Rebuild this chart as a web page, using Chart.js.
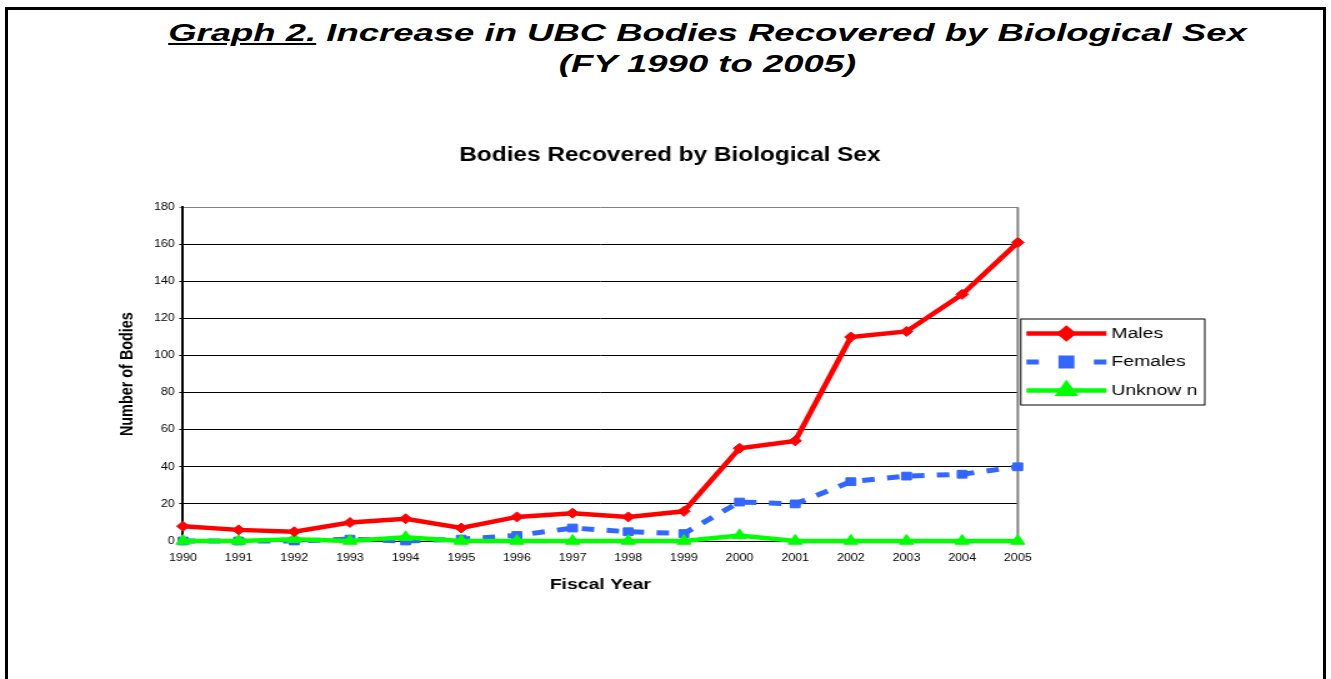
<!DOCTYPE html>
<html>
<head>
<meta charset="utf-8">
<script src="https://cdn.jsdelivr.net/npm/chart.js@4.4.1/dist/chart.umd.min.js"></script>
<style>
  html, body { margin: 0; padding: 0; background: #fff; overflow: hidden; }
  body { width: 1331px; height: 679px; position: relative; }
  #frame {
    position: absolute; left: 5px; top: 7px; width: 1315px; height: 720px;
    border: 3px solid #000;
  }
  #pageTitle {
    position: absolute; left: 42px; top: 17px; width: 1331px;
    text-align: center; font: italic bold 24px "Liberation Sans", Arial, sans-serif;
    line-height: 31px; color: #000;
    transform: scaleX(1.52); transform-origin: center top;
  }
  #pageTitle .u { text-decoration: underline; }
  #c { position: absolute; left: 0; top: 0; }
</style>
</head>
<body>
<div id="frame"></div>
<div id="pageTitle">
  <div><span class="u">Graph 2.</span> Increase in UBC Bodies Recovered by Biological Sex</div>
  <div>(FY 1990 to 2005)</div>
</div>
<!-- canvas is drawn narrow and stretched sideways, like the original picture -->
<canvas id="c" width="1065" height="679" style="width:1331px;height:679px"></canvas>
<script>
// ---- data ----
const years = ['1990', '1991', '1992', '1993', '1994', '1995', '1996', '1997',
               '1998', '1999', '2000', '2001', '2002', '2003', '2004', '2005'];
const males   = [8, 6, 5, 10, 12, 7, 13, 15, 13, 16, 50, 54, 110, 113, 133, 161];
const females = [0, 0, 0, 1, 0, 1, 3, 7, 5, 4, 21, 20, 32, 35, 36, 40];
const unknown = [0, 0, 1, 0, 2, 0, 0, 0, 0, 0, 3, 0, 0, 0, 0, 0];
const seriesNames = ['Males', 'Females', 'Unknow n'];
const yTicks = [0, 20, 40, 60, 80, 100, 120, 140, 160, 180];

const FONT = '"Liberation Sans", Arial, sans-serif';

// legend with a line + marker sample, inside a framed box
const lineLegend = {
    id: 'lineLegend',
    afterDraw(chart, args, o) {
        const ctx = chart.ctx;
        ctx.save();
        ctx.strokeStyle = '#000';
        ctx.lineWidth = 1;
        ctx.strokeRect(o.left, o.top, o.width, o.height);
        chart.data.datasets.forEach((ds, i) => {
            const y = o.top + o.firstRow + i * o.rowGap;
            const x0 = o.left + o.lineStart, x1 = o.left + o.lineEnd;
            ctx.strokeStyle = ds.borderColor;
            ctx.lineWidth = ds.borderWidth;
            if (ds.borderDash) {
                const d = ds.borderDash[0];
                ctx.setLineDash([d, (x1 - x0) - 2 * d, d]);
            } else {
                ctx.setLineDash([]);
            }
            ctx.beginPath();
            ctx.moveTo(x0, y);
            ctx.lineTo(x1, y);
            ctx.stroke();
            ctx.setLineDash([]);
            ctx.fillStyle = ds.pointBackgroundColor;
            ctx.strokeStyle = ds.pointBorderColor;
            Chart.helpers.drawPoint(ctx, {
                pointStyle: ds.pointStyle, radius: ds.pointRadius, borderWidth: 1, rotation: 0
            }, (x0 + x1) / 2, y);
            ctx.fillStyle = '#000';
            ctx.font = o.font;
            ctx.textBaseline = 'middle';
            ctx.textAlign = 'left';
            ctx.fillText(ds.label, o.left + o.textStart, y);
        });
        ctx.restore();
    }
};

// grey right edge of the plot area
const plotEdge = {
    id: 'plotEdge',
    beforeDatasetsDraw(chart) {
        const {ctx, chartArea} = chart;
        ctx.save();
        ctx.strokeStyle = '#808080';
        ctx.lineWidth = 2;
        ctx.beginPath();
        ctx.moveTo(chartArea.right, chartArea.top);
        ctx.lineTo(chartArea.right, chartArea.bottom);
        ctx.stroke();
        ctx.restore();
    }
};

const ctx = document.getElementById('c');

new Chart(ctx, {
    type: 'line',
    data: {
        labels: years,
        datasets: [
            {
                label: seriesNames[0], data: males, order: 0, clip: false,
                borderColor: '#ff0000', backgroundColor: '#ff0000', borderWidth: 4.5,
                pointStyle: 'rectRot', pointRadius: 5,
                pointBackgroundColor: '#ff0000', pointBorderColor: '#ff0000', pointBorderWidth: 1
            },
            {
                label: seriesNames[1], data: females, order: 2, clip: false,
                borderColor: '#3366ff', backgroundColor: '#3366ff', borderWidth: 5,
                borderDash: [10, 10],
                pointStyle: 'rect', pointRadius: 5.5,
                pointBackgroundColor: '#3366ff', pointBorderColor: '#3366ff', pointBorderWidth: 1
            },
            {
                label: seriesNames[2], data: unknown, order: 1, clip: false,
                borderColor: '#00ff00', backgroundColor: '#00ff00', borderWidth: 4.5,
                pointStyle: 'triangle', pointRadius: 6.5,
                pointBackgroundColor: '#00ff00', pointBorderColor: '#00ff00', pointBorderWidth: 1
            }
        ]
    },
    options: {
        responsive: false,
        devicePixelRatio: 1,
        animation: false,
        layout: { padding: { left: 7, right: 0, top: 143.6, bottom: 84.7 } },
        elements: { line: { tension: 0 } },
        plugins: {
            legend: { display: false },
            tooltip: { enabled: false },
            title: {
                display: true,
                text: 'Bodies Recovered by Biological Sex',
                color: '#000',
                font: { family: FONT, size: 19.5, weight: 'bold' },
                padding: { top: 0, bottom: 40.2 }
            },
            lineLegend: {
                left: 816.8, top: 319, width: 147.2, height: 86,
                firstRow: 14.5, rowGap: 28.5,
                lineStart: 4.5, lineEnd: 68.5, textStart: 72.5,
                font: '15.5px ' + FONT
            }
        },
        scales: {
            x: {
                offset: false,
                grid: { display: false },
                border: { display: false },
                ticks: {
                    color: '#000', font: { family: FONT, size: 10 },
                    padding: 3, maxRotation: 0, autoSkip: false
                },
                title: {
                    display: true, text: 'Fiscal Year', color: '#000',
                    font: { family: FONT, size: 15.5, weight: 'bold' },
                    padding: { top: 0, bottom: 0 }
                },
                afterFit(s) { s.height = 53.3; }
            },
            y: {
                min: 0, max: 180,
                afterBuildTicks(s) { s.ticks = yTicks.map(v => ({ value: v })); },
                grid: {
                    color: c => (c.tick && c.tick.value === 180) ? '#808080' : '#000',
                    lineWidth: 1, tickLength: 3, drawTicks: true
                },
                border: { display: true, color: '#000', width: 2 },
                ticks: { color: '#000', font: { family: FONT, size: 10 }, padding: 3.5 },
                title: {
                    display: true, text: 'Number of Bodies', color: '#000',
                    font: { family: FONT, size: 14.4, weight: 'bold' },
                    padding: { top: 86, bottom: 0 }
                },
                afterFit(s) { s.width = 139.4; }
            },
            // empty right-hand room for the legend box
            spacer: {
                type: 'linear', position: 'right', display: true,
                grid: { display: false }, border: { display: false },
                ticks: { display: false },
                afterFit(s) { s.width = 250.6; }
            }
        }
    },
    plugins: [lineLegend, plotEdge]
});
</script>
</body>
</html>
